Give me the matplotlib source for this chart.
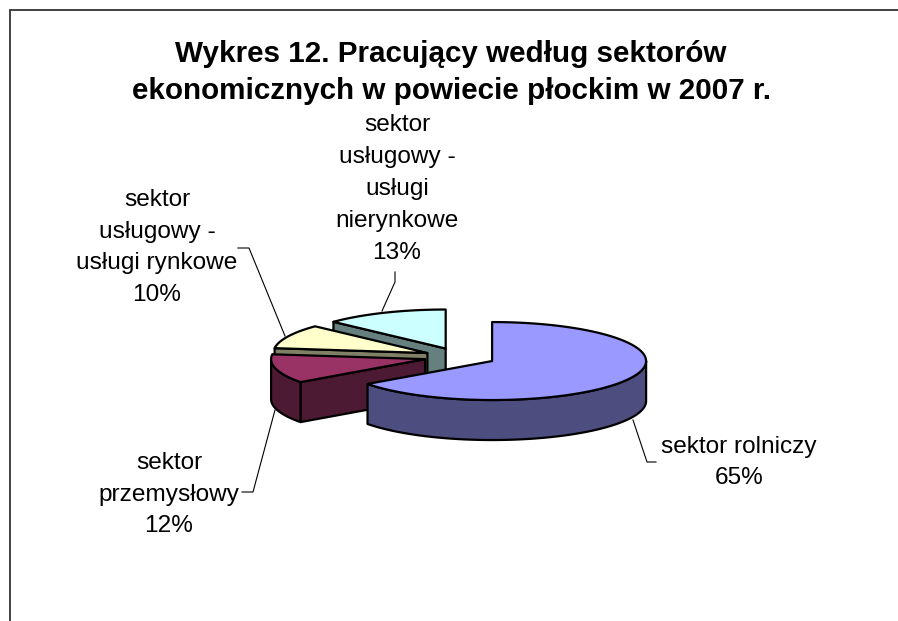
import numpy as np
import matplotlib
matplotlib.use("Agg")
import matplotlib.pyplot as plt
from matplotlib.patches import Polygon

plt.rcParams['font.family'] = ['Liberation Sans', 'DejaVu Sans']

title = "Wykres 12. Pracujący według sektorów\nekonomicznych w powiecie płockim w 2007 r."
categories = ["sektor rolniczy", "sektor przemysłowy", "sektor usługowy - usługi rynkowe",
              "sektor usługowy - usługi nierynkowe"]
values = [65, 12, 10, 13]
label_texts = ["sektor rolniczy\n65%", "sektor\nprzemysłowy\n12%",
               "sektor\nusługowy -\nusługi rynkowe\n10%",
               "sektor\nusługowy -\nusługi\nnierynkowe\n13%"]
top_colors = ["#9999FF", "#993366", "#FFFFCC", "#CCFFFF"]
side_colors = ["#4D4D80", "#4D1A33", "#808066", "#668080"]

# layout in figure pixels
CX, CY = 460.0, 356.9
RX, RY = 154.0, 39.0
DEPTH = 40.0
EXPLODE = 0.234
label_pos = [(739, 462.5), (169, 494.5), (157, 247.5), (397, 189)]
leaders = [
    ([633, 647, 656], [420, 462, 462]),
    ([242, 253, 275], [492, 492, 410]),
    ([238, 249, 285], [248, 248, 336]),
    ([395, 395, 382], [272, 282, 311]),
]

fig = plt.figure(figsize=(8.98, 6.21), dpi=100)
ax = fig.add_axes([0, 0, 1, 1])
ax.set_xlim(0, 898)
ax.set_ylim(621, 0)
ax.axis("off")


def pt(cx, cy, deg, dz=0.0):
    t = np.radians(deg)
    return cx + RX * np.sin(t), cy - RY * np.cos(t) + dz


def arc(cx, cy, a, b, dz=0.0):
    d = np.linspace(a, b, 80)
    return np.column_stack(pt(cx, cy, d, dz))


edges = np.cumsum([0] + values) / sum(values) * 360.0
wedges = []
for i in range(len(values)):
    a, b = edges[i], edges[i + 1]
    mid = np.radians((a + b) / 2)
    wedges.append((i, a, b, CX + EXPLODE * RX * np.sin(mid), CY - EXPLODE * RY * np.cos(mid)))

kw = dict(edgecolor="black", linewidth=1.6, joinstyle="round")
# back slices first: the first slice sits in front of the others
for i, a, b, cx, cy in reversed(wedges):
    side, top = side_colors[i], top_colors[i]
    if np.sin(np.radians(a)) < -1e-9:
        p0 = pt(cx, cy, a)
        ax.add_patch(Polygon([(cx, cy), p0, (p0[0], p0[1] + DEPTH), (cx, cy + DEPTH)],
                             facecolor=side, **kw))
    lo, hi = max(a, 90), min(b, 270)
    if lo < hi:
        ax.add_patch(Polygon(np.vstack([arc(cx, cy, lo, hi), arc(cx, cy, hi, lo, DEPTH)]),
                             facecolor=side, **kw))
    ax.add_patch(Polygon(np.vstack([[(cx, cy)], arc(cx, cy, a, b)]), facecolor=top, **kw))

for (lx, ly) in leaders:
    ax.plot(lx, ly, color="black", lw=0.8, solid_joinstyle="miter")

for txt, (x, y) in zip(label_texts, label_pos):
    ax.text(x, y, txt, ha="center", va="center", fontsize=17.6, color="black", linespacing=1.58)

ax.text(451, 72.5, title, ha="center", va="center", fontsize=21.3, fontweight="bold",
        color="black", linespacing=1.42)

ax.plot([9.5, 9.5, 898], [621, 10, 10], color="#333333", lw=1.3, solid_joinstyle="miter")

fig.savefig("out.png", dpi=100, facecolor="white")
